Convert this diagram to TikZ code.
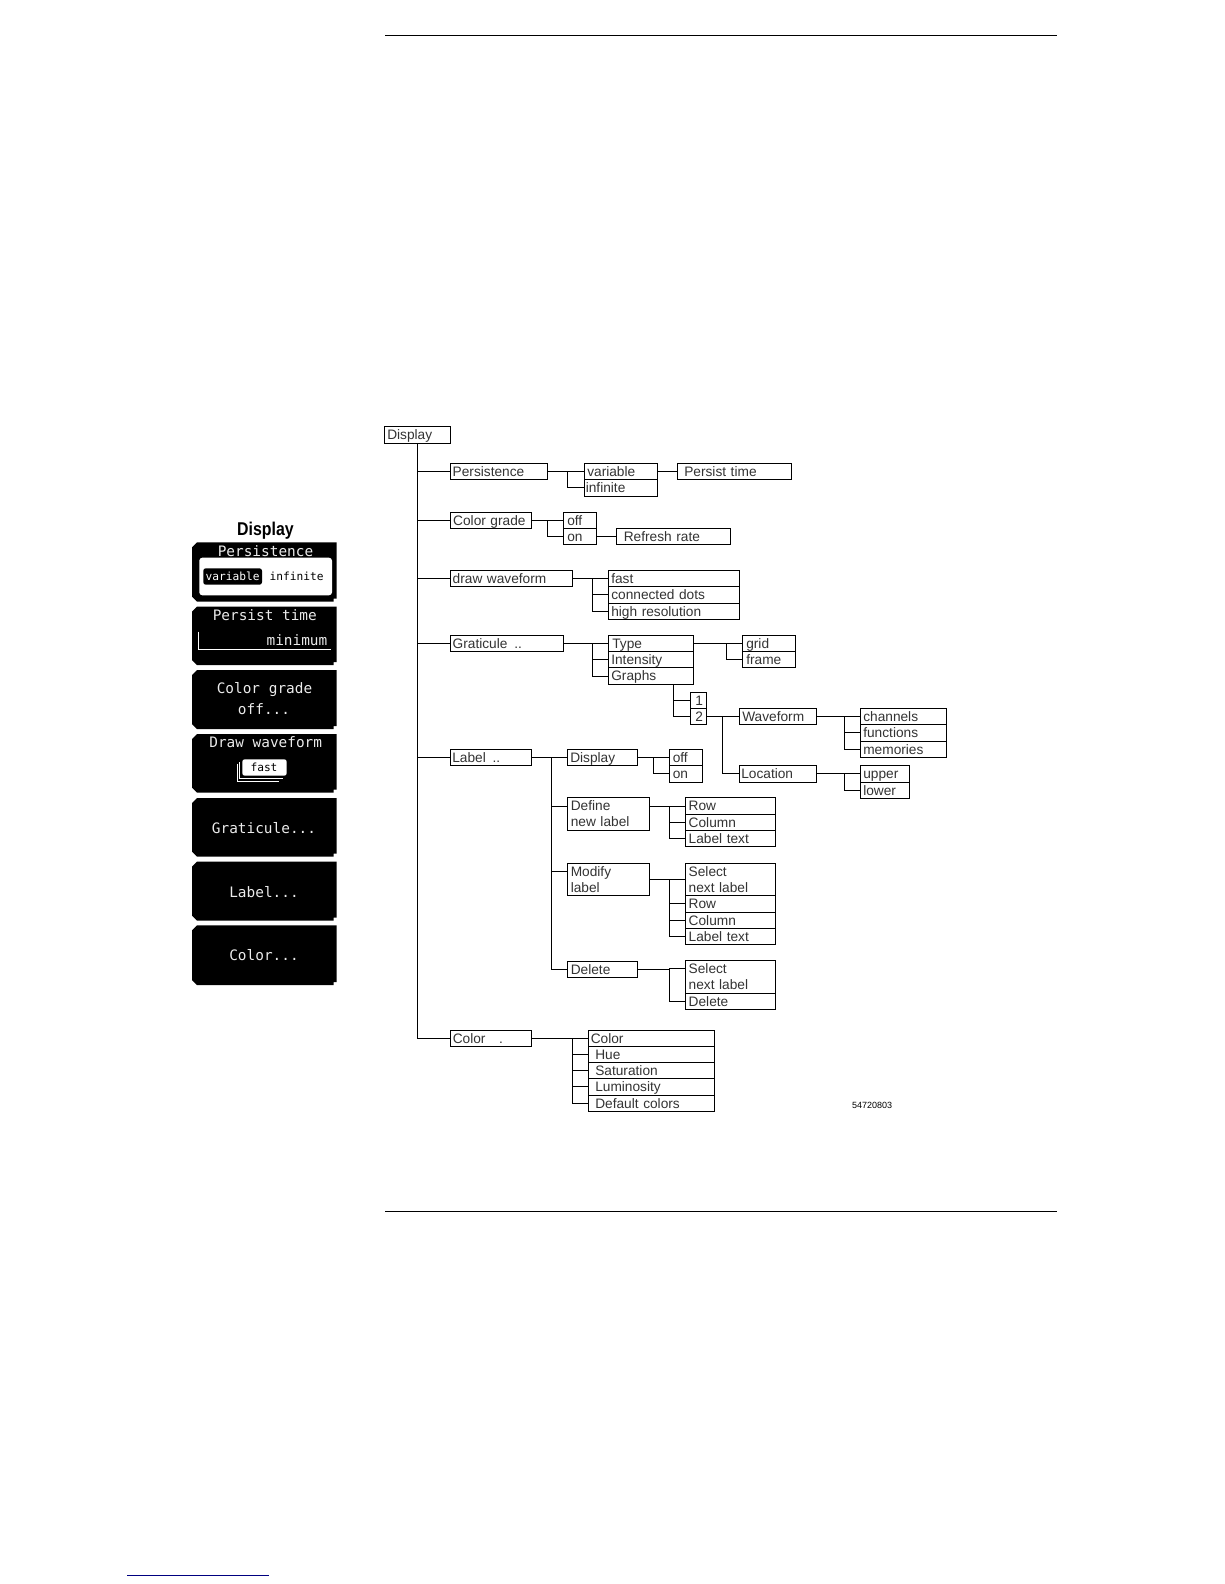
\documentclass[tikz,border=0pt]{standalone}
\usepackage{fontspec}
\setmainfont{Liberation Sans}[WordSpace=2.5]
\setmonofont{DejaVu Sans Mono}
\newcommand\mystrut{\rule[-3.3pt]{0pt}{16pt}}
\tikzset{
  x=1pt,y=-1pt,
  bx/.style={draw=black,line width=1pt,inner ysep=0pt,outer sep=0pt,anchor=north west,align=left,
    font=\fontsize{13.7}{16}\selectfont,text=black!80,
    execute at begin node=\mystrut,execute at end node=\mystrut},
  wire/.style={draw=black,line width=1pt},
  rulebar/.style={draw=black,line width=1pt},
  keybody/.style={fill=black},
  keytext/.style={text=black!8,font=\ttfamily\fontsize{14.4}{16}\selectfont,inner sep=0pt},
  smalltext/.style={font=\ttfamily\fontsize{11.2}{13}\selectfont,inner sep=0pt},
}
% optional inset; name; x0; y0; x1; y1; text
\newcommand\bx[7][3]{%
  \pgfmathsetmacro\bw{#5-#3}%
  \pgfmathsetmacro\bh{#6-#4}%
  \pgfmathsetmacro\tw{#5-#3-2*#1}%
  \node[bx,inner xsep=#1pt,text width=\tw pt,minimum width=\bw pt,minimum height=\bh pt] (#2) at (#3,#4) {#7};}
% source anchor; junction x; list of target anchors
\newcommand\branch[3]{%
  \coordinate (J) at (#2,0);
  \draw[wire] (#1) -- (J |- #1);
  \foreach \t in {#3} {\draw[wire] (J |- #1) |- (\t);}}
\newcommand\softkey[2]{%
  \fill[keybody] (197,#1) -- (336.7,#1) -- (336.7,#2-3) -- (333.5,#2-3) -- (333.5,#2) -- (197,#2) -- (192,#2-5) -- (192,#1+5) -- cycle;}
\begin{document}
\begin{tikzpicture}
\useasboundingbox (0,0) rectangle (1224,1584);
\fill[white] (0,0) rectangle (1224,1584);
% page rules
\coordinate (rt1) at (385,36); \coordinate (rt2) at (1057,36);
\coordinate (rb1) at (385,1211); \coordinate (rb2) at (1057,1211);
\coordinate (lk1) at (127,1575); \coordinate (lk2) at (269,1575);
\draw[rulebar] (rt1) -- (rt2);
\draw[rulebar] (rb1) -- (rb2);
\draw[draw=blue!50!black,line width=1pt] (lk1) -- (lk2);
% softkey panel
\node[inner sep=0pt,font=\bfseries\fontsize{18.5}{20}\selectfont,xscale=.86,transform shape] (title) at (265.5,531) {Display};
\softkey{542.3}{601.7}
\softkey{606.7}{665}
\softkey{670}{729}
\softkey{734}{792.7}
\softkey{798}{856.7}
\softkey{861.7}{920.7}
\softkey{925.3}{985}
\node[keytext] (k1) at (265.5,550.7) {Persistence};
\fill[white,rounded corners=3pt] (199.3,557.7) rectangle (332,595.3);
\fill[black,rounded corners=2.5pt] (203.3,568.3) rectangle (262,584.7);
\node[smalltext,text=white] (k1a) at (232.7,576.7) {variable};
\node[smalltext,text=black] (k1b) at (296.7,576.7) {infinite};
\node[keytext] (k2) at (264.8,614.7) {Persist time};
\draw[white,line width=.8pt] (198.3,631.7) -- (198.3,649.3) -- (330.7,649.3);
\node[keytext,anchor=east] (k2a) at (327.5,640) {minimum};
\node[keytext] (k3) at (264.5,690) {Color grade};
\node[keytext] (k3a) at (264,709.3) {off...};
\node[keytext] (k4) at (265.7,742.3) {Draw waveform};
\draw[white,line width=.8pt] (239.3,762) -- (239.3,778) -- (283,778);
\draw[white,line width=.8pt] (237.3,763.5) -- (237.3,781) -- (279,781);
\fill[white,rounded corners=2.5pt] (242.3,759.3) rectangle (286.7,775.7);
\node[smalltext,text=black] (k4a) at (264,767.7) {fast};
\node[keytext] (k5) at (264,828) {Graticule...};
\node[keytext] (k6) at (264,891.7) {Label...};
\node[keytext] (k7) at (264,955.3) {Color...};
% tree
\bx{disp}{384.3}{426.7}{450.7}{443.3}{Display}
\bx[2]{pers}{450.7}{463.3}{547.7}{479.3}{Persistence}
\bx{var}{584.3}{463.3}{657.7}{479.3}{variable}
\bx[1.5]{inf}{584.3}{479.3}{657.7}{496}{infinite}
\bx[7]{ptime}{677.3}{463.3}{791.7}{479.3}{Persist time}
\bx[2.5]{cgrade}{450.7}{512.3}{531.7}{528.3}{Color grade}
\bx[4]{cgoff}{563.3}{512.3}{596.7}{528.3}{off}
\bx[4]{cgon}{563.3}{528.3}{596.7}{544.3}{on}
\bx[7.5]{refresh}{616.3}{528.3}{730.7}{544.3}{Refresh rate}
\bx[2]{draww}{450.7}{570.3}{572.7}{586.3}{draw waveform}
\bx{wfast}{608.3}{570.3}{739.3}{586.3}{fast}
\bx{wdots}{608.3}{586.3}{739.3}{603.3}{connected dots}
\bx{whigh}{608.3}{603.3}{739.3}{619.3}{high resolution}
\bx[2]{grat}{450.7}{635.3}{563.7}{651.3}{Graticule \,..}
\bx[4]{gtype}{608.3}{635.3}{693.3}{651.3}{Type}
\bx{gint}{608.3}{651.3}{693.3}{667.7}{Intensity}
\bx{ggraphs}{608.3}{667.7}{693.3}{684.3}{Graphs}
\bx[4]{ggrid}{742.3}{635.3}{795.7}{651.3}{grid}
\bx[4]{gframe}{742.3}{651.3}{795.7}{667.3}{frame}
\bx[5]{gone}{690.3}{692.3}{706.7}{708.3}{1}
\bx[5]{gtwo}{690.3}{708.3}{706.7}{724.3}{2}
\bx[3]{gwave}{739.3}{708.3}{816.3}{724.3}{Waveform}
\bx[2]{gloc}{739.3}{765.3}{816.3}{782.3}{Location}
\bx{wch}{860.3}{708.3}{946.3}{724.3}{channels}
\bx{wfu}{860.3}{724.3}{946.3}{741.3}{functions}
\bx{wme}{860.3}{741.3}{946.3}{757.3}{memories}
\bx{lup}{860.3}{765.3}{909.3}{782.3}{upper}
\bx{llo}{860.3}{782.3}{909.3}{797.3}{lower}
\bx[2]{label}{450.3}{749.3}{531.7}{765.3}{Label \,..}
\bx[3]{ldisp}{567.3}{749.3}{637.7}{765.3}{Display}
\bx[3.5]{loff}{669.3}{749.3}{702.7}{765.3}{off}
\bx[3.5]{lon}{669.3}{765.3}{702.7}{782.3}{on}
\bx[3.5]{ldef}{567.3}{797.7}{649.3}{830.3}{Define\\new label}
\bx[3]{drow}{685.7}{797.7}{775.3}{814.3}{Row}
\bx[3]{dcol}{685.7}{814.3}{775.3}{830.3}{Column}
\bx[3]{dtxt}{685.7}{830.3}{775.3}{846.3}{Label text}
\bx[3.5]{lmod}{567.3}{863.3}{649.3}{895.3}{Modify\\label}
\bx[3]{msel}{685.7}{863.3}{775.3}{895.3}{Select\\next label}
\bx[3]{mrow}{685.7}{895.3}{775.3}{912.3}{Row}
\bx[3]{mcol}{685.7}{912.3}{775.3}{928.3}{Column}
\bx[3]{mtxt}{685.7}{928.3}{775.3}{944.3}{Label text}
\bx[3.5]{ldel}{567.3}{961.3}{637.7}{977}{Delete}
\bx[3]{xsel}{685.7}{960.7}{775.3}{993.3}{Select\\next label}
\bx[3]{xdel}{685.7}{993.3}{775.3}{1009.3}{Delete}
\bx[2.5]{color}{450.3}{1030.3}{531.7}{1046.3}{Color \ \ .}
\bx[2.5]{ccol}{588.3}{1030.3}{714.7}{1046.3}{Color}
\bx[7]{chue}{588.3}{1046.3}{714.7}{1062.3}{Hue}
\bx[7]{csat}{588.3}{1062.3}{714.7}{1078.3}{Saturation}
\bx[7]{clum}{588.3}{1078.3}{714.7}{1095.3}{Luminosity}
\bx[7]{cdef}{588.3}{1095.3}{714.7}{1111.3}{Default colors}
\node[inner sep=0pt,font=\fontsize{9}{10}\selectfont,anchor=west] (partno) at (852,1105.5) {54720803};
% connectors
\draw[wire] (disp.south) |- (color.west);
\foreach \n in {pers,cgrade,draww,grat,label} {\draw[wire] (disp.south |- \n.west) -- (\n.west);}
\branch{pers.east}{567.7}{var.west,inf.west}
\draw[wire] (var.east) -- (ptime.west);
\branch{cgrade.east}{547.3}{cgoff.west,cgon.west}
\draw[wire] (cgon.east) -- (refresh.west);
\branch{draww.east}{592.3}{wfast.west,wdots.west,whigh.west}
\branch{grat.east}{592.3}{gtype.west,gint.west,ggraphs.west}
\coordinate (typeE) at (693.3,643.3);
\branch{typeE}{726.3}{ggrid.west,gframe.west}
\coordinate (gbot) at (673.3,684.3);
\draw[wire] (gbot) |- (gone.west);
\draw[wire] (gbot) |- (gtwo.west);
\branch{gtwo.east}{722.3}{gwave.west,gloc.west}
\branch{gwave.east}{844.3}{wch.west,wfu.west,wme.west}
\branch{gloc.east}{844.3}{lup.west,llo.west}
\coordinate (defW) at (567.3,806.3);
\coordinate (defE) at (649.3,806.3);
\coordinate (modW) at (567.3,871.3);
\coordinate (selW) at (685.7,968.9);
\branch{label.east}{551.3}{ldisp.west,defW,modW,ldel.west}
\branch{ldisp.east}{653.3}{loff.west,lon.west}
\branch{defE}{669.3}{drow.west,dcol.west,dtxt.west}
\branch{lmod.east}{669.3}{msel.west,mrow.west,mcol.west,mtxt.west}
\branch{ldel.east}{669.3}{selW,xdel.west}
\branch{color.east}{572.3}{ccol.west,chue.west,csat.west,clum.west,cdef.west}
\end{tikzpicture}
\end{document}
